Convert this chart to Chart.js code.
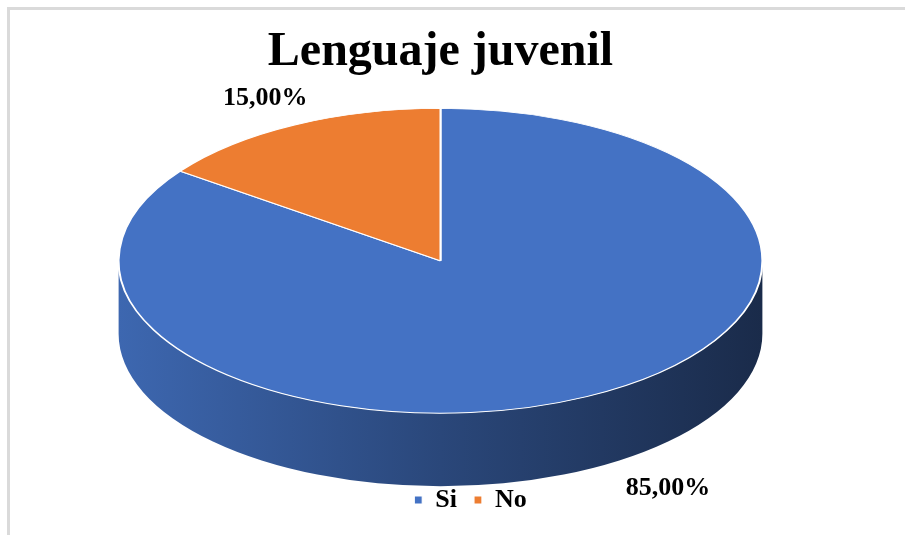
<!DOCTYPE html>
<html>
<head>
<meta charset="utf-8">
<script src="https://cdn.jsdelivr.net/npm/chart.js@4.4.1/dist/chart.umd.min.js"></script>
<style>
  html, body { margin: 0; padding: 0; background: #fff; }
  #wrap { position: relative; width: 905px; height: 535px; overflow: hidden; }
  #frame { position: absolute; left: 7px; top: 7px; width: 905px; height: 535px; border-top: 3px solid #dadada; border-left: 3px solid #dadada; }
  #chart { position: absolute; left: 0; top: 0; }
</style>
</head>
<body>
<div id="wrap">
  <div id="frame"></div>
  <canvas id="chart" width="905" height="535"></canvas>
</div>
<script>
const categories = ['Si', 'No'];
const percentages = [85, 15];
const sliceColors = ['#4472C4', '#ED7D31'];

const serif = "'Liberation Serif', 'Times New Roman', serif";

// fake 3D look: squash the library's circle into an ellipse and extrude the front rim
const tilt = { stretch: 1.68, ratio: 0.4735, depth: 73, lift: 17 };

function shade(hex, f) {
    const n = parseInt(hex.slice(1), 16);
    const r = Math.round(((n >> 16) & 255) * f);
    const g = Math.round(((n >> 8) & 255) * f);
    const b = Math.round((n & 255) * f);
    return `rgb(${r}, ${g}, ${b})`;
}

function formatPct(v) {
    return v.toFixed(2).replace('.', ',') + '%';
}

const pie3d = {
    id: 'pie3d',
    afterLayout(chart) {
        // legend sits a little right of the title in the original
        chart.legend.left += 30;
        chart.legend.right += 30;
    },
    beforeDatasetsDraw(chart) {
        const ctx = chart.ctx;
        const arcs = chart.getDatasetMeta(0).data;
        const first = arcs[0];
        const sy = tilt.stretch * tilt.ratio;
        ctx.save();
        ctx.translate(first.x, first.y - tilt.lift);
        ctx.scale(tilt.stretch, sy);
        ctx.translate(-first.x, -first.y);

        const d = tilt.depth / sy;
        arcs.forEach((arc, i) => {
            const { x, y, startAngle, endAngle, outerRadius } = arc;
            [0, 2 * Math.PI].forEach(base => {
                const a0 = Math.max(startAngle, base);
                const a1 = Math.min(endAngle, base + Math.PI);
                if (a1 <= a0) return;
                const grad = ctx.createLinearGradient(x - outerRadius, 0, x + outerRadius, 0);
                grad.addColorStop(0, shade(sliceColors[i], 0.9));
                grad.addColorStop(0.5, shade(sliceColors[i], 0.62));
                grad.addColorStop(1, shade(sliceColors[i], 0.38));
                ctx.beginPath();
                ctx.arc(x, y, outerRadius, a0, a1);
                ctx.arc(x, y + d, outerRadius, a1, a0, true);
                ctx.closePath();
                ctx.fillStyle = grad;
                ctx.fill();
            });
        });
    },
    afterDatasetsDraw(chart) {
        const ctx = chart.ctx;
        ctx.restore();

        const arcs = chart.getDatasetMeta(0).data;
        const values = chart.data.datasets[0].data;
        ctx.save();
        ctx.font = `bold 26px ${serif}`;
        ctx.fillStyle = '#000';
        ctx.textBaseline = 'middle';
        arcs.forEach((arc, i) => {
            const rx = arc.outerRadius * tilt.stretch;
            const ry = rx * tilt.ratio;
            const cx = arc.x;
            const cy = arc.y - tilt.lift;
            const mid = (arc.startAngle + arc.endAngle) / 2;
            const k = 1.2;
            let px = cx + rx * k * Math.cos(mid);
            let py = cy + ry * k * Math.sin(mid);
            ctx.textAlign = 'center';
            if (Math.sin(mid) > 0) {
                // front labels hang below the rim, pushed outward
                py += tilt.depth - 8;
                px += Math.cos(mid) >= 0 ? 10 : -10;
                ctx.textAlign = Math.cos(mid) >= 0 ? 'left' : 'right';
            }
            ctx.fillText(formatPct(values[i]), px, py);
        });
        ctx.restore();
    }
};

new Chart(document.getElementById('chart'), {
    type: 'pie',
    data: {
        labels: categories,
        datasets: [{
            data: percentages,
            backgroundColor: sliceColors,
            borderColor: '#ffffff',
            borderWidth: 1.2,
            hoverOffset: 0,
            clip: false
        }]
    },
    options: {
        responsive: false,
        animation: false,
        layout: { padding: { top: 8, left: 8, right: 32, bottom: 12 } },
        plugins: {
            title: {
                display: true,
                text: 'Lenguaje juvenil',
                color: '#000',
                font: { family: serif, size: 48, weight: 'bold' },
                padding: { top: 16, bottom: 4 }
            },
            legend: {
                position: 'bottom',
                labels: {
                    boxWidth: 8,
                    boxHeight: 8,
                    padding: 17,
                    color: '#000',
                    font: { family: serif, size: 26, weight: 'bold' }
                }
            },
            tooltip: { enabled: false }
        }
    },
    plugins: [pie3d]
});
</script>
</body>
</html>
